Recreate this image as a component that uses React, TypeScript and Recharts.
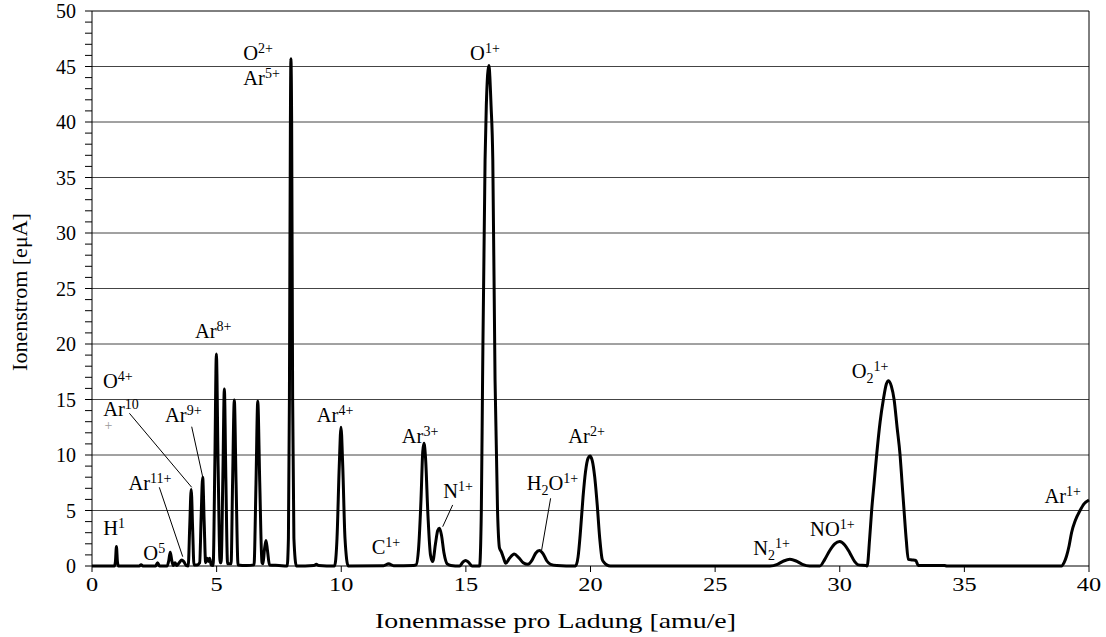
import React from 'react';
import { LineChart, Line, XAxis, YAxis, ReferenceLine, ReferenceDot, Label } from 'recharts';

// Massenspektrum: [Ionenmasse pro Ladung (amu/e), Ionenstrom (eµA)]
const spectrum: [number, number][] = [
  [0, 0], [0.9, 0], [0.94, 0.4], [0.98, 1.75], [1.02, 0.4], [1.06, 0],
  [1.9, 0], [1.97, 0.12], [2.04, 0], [2.55, 0], [2.63, 0.3], [2.71, 0],
  [3.02, 0], [3.08, 0.5], [3.14, 1.25], [3.2, 0.5], [3.26, 0.05], [3.33, 0.3], [3.4, 0.05],
  [3.5, 0.3], [3.6, 0.55], [3.68, 0.4], [3.78, 0.05], [3.86, 0],
  [3.92, 3.5], [3.98, 6.9], [4.04, 3.2], [4.09, 0.1], [4.22, 0.1], [4.32, 0.3],
  [4.38, 4.5], [4.44, 8.0], [4.5, 4.0], [4.56, 0.3], [4.62, 0.7], [4.67, 0.4], [4.72, 0.7],
  [4.78, 0.1], [4.86, 0.05], [4.93, 9.5], [4.99, 19.1], [5.06, 9], [5.14, 0.3],
  [5.18, 0.3], [5.25, 8], [5.31, 15.95], [5.37, 8], [5.44, 0.2],
  [5.58, 0.2], [5.64, 7.5], [5.71, 14.95], [5.78, 7.5], [5.86, 0.1],
  [6.2, 0.05], [6.5, 0.1], [6.58, 7.5], [6.65, 14.85], [6.73, 7.5], [6.82, 0.3],
  [6.86, 0.2], [6.92, 1.5], [6.98, 2.3], [7.04, 1.4], [7.12, 0.1], [7.5, 0.05],
  [7.83, 0], [7.88, 2.5], [7.92, 15], [7.96, 40], [7.98, 45.7], [8.01, 40], [8.05, 15],
  [8.1, 2.5], [8.2, 0], [8.9, 0.05], [9.0, 0.15], [9.1, 0.05],
  [9.73, 0], [9.83, 2.5], [9.92, 9], [9.99, 12.5], [10.06, 9], [10.15, 2.5], [10.28, 0],
  [11.7, 0.03], [11.9, 0.2], [12.1, 0.03], [12.9, 0.05],
  [13.0, 0.1], [13.1, 1.5], [13.2, 6], [13.27, 10.3], [13.32, 11.05], [13.38, 9.8],
  [13.48, 4.5], [13.58, 1.0], [13.67, 0.4], [13.78, 2.0], [13.87, 3.2], [13.94, 3.4],
  [14.02, 2.8], [14.12, 1.2], [14.25, 0.2], [14.4, 0.05],
  [14.75, 0], [14.88, 0.35], [14.99, 0.5], [15.1, 0.35], [15.25, 0],
  [15.55, 0], [15.62, 5], [15.67, 16.8], [15.77, 36.6], [15.82, 41.5], [15.92, 45.1],
  [16.01, 41.5], [16.08, 36.6], [16.17, 16.8], [16.27, 5], [16.35, 1.6], [16.42, 1.3],
  [16.5, 0.8], [16.6, 0.25], [16.75, 0.7], [16.94, 1.08], [17.12, 0.75], [17.3, 0.3],
  [17.49, 0.15], [17.65, 0.5], [17.8, 1.15], [17.95, 1.4], [18.1, 1.1], [18.25, 0.45],
  [18.4, 0.15], [18.65, 0.05],
  [19.4, 0], [19.5, 0.8], [19.6, 3.2], [19.7, 6.2], [19.8, 8.5], [19.9, 9.7], [19.98, 9.9],
  [20.07, 9.5], [20.17, 8.0], [20.27, 5.5], [20.37, 2.5], [20.47, 0.6], [20.55, 0.3],
  [20.65, 0.1], [20.8, 0],
  [27.2, 0], [27.5, 0.15], [27.75, 0.45], [28.0, 0.6], [28.25, 0.45], [28.5, 0.15], [28.8, 0],
  [29.2, 0], [29.4, 0.6], [29.6, 1.4], [29.8, 2.0], [30.0, 2.2], [30.2, 1.9], [30.4, 1.2],
  [30.6, 0.4], [30.75, 0.1], [31.05, 0.05],
  [31.1, 0], [31.2, 2.5], [31.28, 5.0], [31.38, 7.5], [31.48, 10.0], [31.62, 13], [31.75, 15.0],
  [31.87, 16.4], [31.96, 16.7], [32.07, 16.2], [32.18, 15.0], [32.3, 12.5], [32.42, 10.0],
  [32.5, 7.5], [32.58, 5.0], [32.67, 2.3], [32.75, 0.6], [32.9, 0.55], [33.05, 0.5],
  [33.15, 0.05], [34.2, 0.05], [34.3, 0],
  [38.9, 0], [39.0, 0.3], [39.1, 0.9], [39.2, 1.8], [39.3, 3.0], [39.45, 4.1], [39.64, 5.0],
  [39.8, 5.6], [40, 5.95],
];

const xTicks = [0, 5, 10, 15, 20, 25, 30, 35, 40];
const yTicks = [
  0, 1, 2, 3, 4, 5, 6, 7, 8, 9, 10, 11, 12, 13, 14, 15, 16, 17, 18, 19, 20,
  21, 22, 23, 24, 25, 26, 27, 28, 29, 30, 31, 32, 33, 34, 35, 36, 37, 38, 39, 40,
  41, 42, 43, 44, 45, 46, 47, 48, 49, 50,
];
const gridValues = [5, 10, 15, 20, 25, 30, 35, 40, 45];

// Ionen-Beschriftungen: "_" = tiefgestellt, "^" = hochgestellt
type IonLabel = { x: number; y: number; parts: string[]; color?: string };
const ionLabels: IonLabel[] = [
  { x: 6.07, y: 45.59, parts: ['O', '^2+'] },
  { x: 6.07, y: 43.33, parts: ['Ar', '^5+'] },
  { x: 15.17, y: 45.59, parts: ['O', '^1+'] },
  { x: 4.13, y: 20.5, parts: ['Ar', '^8+'] },
  { x: 0.44, y: 16.04, parts: ['O', '^4+'] },
  { x: 0.45, y: 13.51, parts: ['Ar', '^10'] },
  { x: 0.5, y: 11.6, parts: ['^+'], color: '#999' },
  { x: 2.93, y: 13.0, parts: ['Ar', '^9+'] },
  { x: 1.46, y: 6.85, parts: ['Ar', '^11+'] },
  { x: 0.45, y: 2.79, parts: ['H', '^1'] },
  { x: 2.06, y: 0.54, parts: ['O', '^5'] },
  { x: 9.02, y: 13.0, parts: ['Ar', '^4+'] },
  { x: 11.22, y: 1.08, parts: ['C', '^1+'] },
  { x: 12.43, y: 11.05, parts: ['Ar', '^3+'] },
  { x: 14.09, y: 6.1, parts: ['N', '^1+'] },
  { x: 17.44, y: 6.85, parts: ['H', '_2', 'O', '^1+'] },
  { x: 19.11, y: 11.1, parts: ['Ar', '^2+'] },
  { x: 26.53, y: 0.99, parts: ['N', '_2', '^1+'] },
  { x: 28.81, y: 2.7, parts: ['NO', '^1+'] },
  { x: 30.48, y: 16.91, parts: ['O', '_2', '^1+'] },
  { x: 38.21, y: 5.65, parts: ['Ar', '^1+'] },
];

// Zeigerlinien von den Beschriftungen zu den Peaks
const leaders = [
  [{ x: 1.5, y: 13.76 }, { x: 4.0, y: 7.09 }],
  [{ x: 4.0, y: 12.55 }, { x: 4.44, y: 8.04 }],
  [{ x: 2.7, y: 7.09 }, { x: 3.64, y: 0.84 }],
  [{ x: 14.47, y: 5.5 }, { x: 14.07, y: 3.54 }],
  [{ x: 18.4, y: 6.1 }, { x: 18.04, y: 1.44 }],
];

const FONT = 'Liberation Serif, DejaVu Serif, serif';

const IonText = ({ cx, cy, parts, color }: { cx: number; cy: number; parts: string[]; color?: string }) => {
  let shift = 0;
  return (
    <text x={cx} y={cy} style={{ fontFamily: FONT }} fontSize={20.5} fill={color || '#000'}>
      {parts.map((p, i) => {
        let target = 0;
        let text = p;
        let size = 20.5;
        if (p.startsWith('^')) { target = -7; text = p.slice(1); size = 14; }
        else if (p.startsWith('_')) { target = 5; text = p.slice(1); size = 14; }
        const dy = target - shift;
        shift = target;
        return (
          <tspan key={i} dy={dy} fontSize={size}>{text}</tspan>
        );
      })}
    </text>
  );
};

// x-Achsenbeschriftung etwas in die Breite gezogen
const XTick = ({ x, y, payload }: any) => (
  <text
    transform={`translate(${x}, ${y + 17}) scale(1.28, 1)`}
    textAnchor="middle"
    style={{ fontFamily: FONT }}
    fontSize={19}
    fill="#000"
  >
    {payload.value}
  </text>
);

export default function App() {
  const data = spectrum.map(([m, i]) => ({ m, i }));
  return (
    <div style={{ position: 'absolute', left: 0, top: 0, background: '#fff', fontFamily: FONT }}>
      <LineChart
        width={1106}
        height={637}
        data={data}
        margin={{ top: 11, right: 17, left: 0, bottom: 0 }}
        style={{ fontFamily: FONT }}
      >
        <XAxis
          dataKey="m"
          type="number"
          domain={[0, 40]}
          ticks={xTicks}
          height={71}
          tickSize={6}
          tickMargin={2}
          stroke="#000"
          tick={<XTick />}
          axisLine={{ stroke: '#000' }}
          tickLine={{ stroke: '#000' }}
        >
          <Label
            content={() => (
              <text
                x={375}
                y={628}
                textLength={361}
                lengthAdjust="spacingAndGlyphs"
                style={{ fontFamily: FONT }}
                fontSize={22}
                fill="#000"
              >
                Ionenmasse pro Ladung [amu/e]
              </text>
            )}
          />
        </XAxis>
        <YAxis
          type="number"
          domain={[0, 50]}
          ticks={yTicks}
          interval={0}
          width={92}
          tickSize={7}
          tickMargin={9}
          tickFormatter={(v: number) => (v % 5 === 0 ? String(v) : '')}
          tick={{ fill: '#000', fontSize: 20, style: { fontFamily: FONT } }}
          axisLine={{ stroke: '#000' }}
          tickLine={{ stroke: '#000' }}
        >
          <Label
            content={() => (
              <text
                x={27}
                y={292}
                transform="rotate(-90, 27, 292)"
                textAnchor="middle"
                style={{ fontFamily: FONT }}
                fontSize={22}
                fill="#000"
              >
                Ionenstrom [eμA]
              </text>
            )}
          />
        </YAxis>
        {gridValues.map((v) => (
          <ReferenceLine key={v} y={v} stroke="#444" strokeWidth={1} />
        ))}
        <ReferenceLine y={50} stroke="#000" strokeWidth={1} />
        <ReferenceLine x={40} stroke="#000" strokeWidth={1} />
        {leaders.map((seg, i) => (
          <ReferenceLine key={'l' + i} segment={seg} stroke="#000" strokeWidth={1} />
        ))}
        <Line
          type="monotone"
          dataKey="i"
          stroke="#000"
          strokeWidth={3}
          dot={false}
          activeDot={false}
          strokeLinejoin="round"
          isAnimationActive={false}
        />
        {ionLabels.map((l, i) => (
          <ReferenceDot
            key={'d' + i}
            x={l.x}
            y={l.y}
            r={0}
            ifOverflow="visible"
            shape={(p: any) => <IonText cx={p.cx} cy={p.cy} parts={l.parts} color={l.color} />}
          />
        ))}
      </LineChart>
    </div>
  );
}
